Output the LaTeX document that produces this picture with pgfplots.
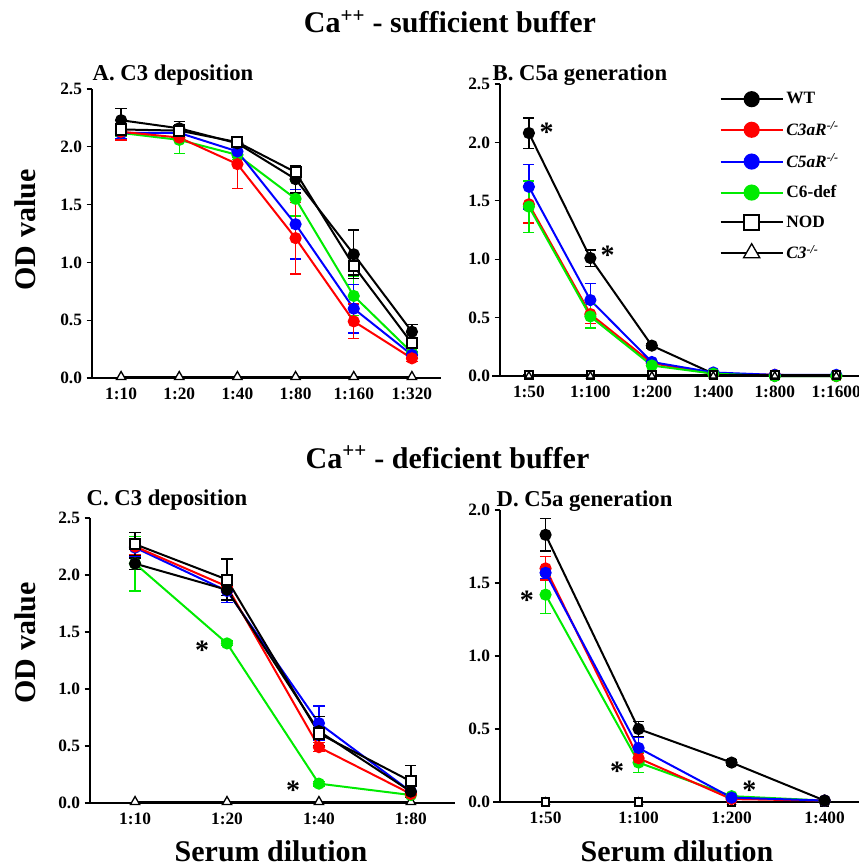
\documentclass[border=0pt]{standalone}
\usepackage{fontspec}
\setmainfont{Liberation Serif}
\usepackage{pgfplots}
\pgfplotsset{compat=1.18}

\definecolor{cred}{RGB}{255,0,0}
\definecolor{cblue}{RGB}{0,0,255}
\definecolor{cgreen}{RGB}{0,235,0}

\tikzset{
  starnode/.style={font=\fontsize{21}{21}\selectfont\bfseries, inner sep=0pt, anchor=base, yshift=-9pt},
}

\pgfplotsset{
  panel/.style={
    scale only axis, clip=false,
    axis x line*=bottom, axis y line*=left,
    axis line style={line width=1.4pt},
    ymin=0, xtick={0,...,5},
    tick align=outside, major tick length=4pt,
    x tick style={draw=none},
    y tick style={line width=1pt,black},
    tick label style={font=\fontsize{13}{15}\selectfont\bfseries},
    /pgf/number format/assume math mode=true,
    yticklabel style={/pgf/number format/.cd,fixed,fixed zerofill,precision=1},
    every axis plot/.append style={line width=1.5pt},
  },
  eb/.style={error bars/y dir=both, error bars/y explicit,
    error bars/error bar style={line width=1pt},
    error bars/error mark options={rotate=90,mark size=4.2pt,line width=1pt}},
  wt/.style={black, mark=*, mark size=3.8pt, mark options={solid}, eb,
    legend image post style={mark size=5.3pt}},
  c3ar/.style={cred, mark=*, mark size=3.8pt, mark options={solid}, eb,
    legend image post style={mark size=5.3pt}},
  c5ar/.style={cblue, mark=*, mark size=3.8pt, mark options={solid}, eb,
    legend image post style={mark size=5.3pt}},
  c6/.style={cgreen, mark=*, mark size=3.8pt, mark options={solid}, eb,
    legend image post style={mark size=5.3pt}},
  nod/.style={black, mark=square*, mark size=3.8pt, mark options={solid,fill=white}, eb,
    legend image post style={mark size=5.6pt}},
  c3ko/.style={black, mark=triangle*, mark size=4pt, mark options={solid,fill=white,line width=1pt},
    legend image post style={mark size=7pt}},
}

\begin{document}
\begin{tikzpicture}
\useasboundingbox (0,0) rectangle (644.25pt,-650.25pt);

% titles
\node[anchor=base, font=\fontsize{22.5}{24}\selectfont\bfseries] at (337.5pt,-24.75pt) {Ca\textsuperscript{++} - sufficient buffer};
\node[anchor=base, font=\fontsize{22.5}{24}\selectfont\bfseries] at (335.6pt,-351pt) {Ca\textsuperscript{++} - deficient buffer};
\node[anchor=base west, font=\fontsize{17}{19}\selectfont\bfseries] at (66pt,-60pt) {A. C3 deposition};
\node[anchor=base west, font=\fontsize{17}{19}\selectfont\bfseries] at (366pt,-60pt) {B. C5a generation};
\node[anchor=base west, font=\fontsize{17}{19}\selectfont\bfseries] at (61.5pt,-378.75pt) {C. C3 deposition};
\node[anchor=base west, font=\fontsize{17}{19}\selectfont\bfseries] at (369pt,-379.5pt) {D. C5a generation};
\node[anchor=base, rotate=90, font=\fontsize{22.5}{24}\selectfont\bfseries] at (26.25pt,-172.5pt) {OD value};
\node[anchor=base, rotate=90, font=\fontsize{22.5}{24}\selectfont\bfseries] at (26.25pt,-482.25pt) {OD value};
\node[anchor=base, font=\fontsize{22.5}{24}\selectfont\bfseries, inner ysep=0pt] at (203.25pt,-646pt) {Serum dilution};
\node[anchor=base, font=\fontsize{22.5}{24}\selectfont\bfseries, inner ysep=0pt] at (507.75pt,-646pt) {Serum dilution};

% A. C3 deposition, Ca++ sufficient
\begin{axis}[panel, at={(69pt,-283.5pt)}, anchor=south west,
  width=261.75pt, height=216.75pt, xmin=-0.5, xmax=5.5, ymax=2.5,
  ytick={0,0.5,...,2.5}, xticklabels={1:10,1:20,1:40,1:80,1:160,1:320}]
\addplot[c3ko] coordinates {(0,0.01) (1,0.01) (2,0.01) (3,0.01) (4,0.01) (5,0.01)};
\addplot[c6] coordinates {(0,2.12) +- (0,0.03) (1,2.06) +- (0,0.12) (2,1.93) +- (0,0.04) (3,1.55) +- (0,0.15) (4,0.71) +- (0,0.17) (5,0.22) +- (0,0.04)};
\addplot[c5ar] coordinates {(0,2.12) +- (0,0.05) (1,2.12) +- (0,0.03) (2,1.96) +- (0,0.05) (3,1.33) +- (0,0.30) (4,0.60) +- (0,0.21) (5,0.20) +- (0,0.03)};
\addplot[c3ar] coordinates {(0,2.13) +- (0,0.07) (1,2.08) +- (0,0.03) (2,1.85) +- (0,0.21) (3,1.21) +- (0,0.31) (4,0.49) +- (0,0.15) (5,0.17) +- (0,0.03)};
\addplot[wt] coordinates {(0,2.23) +- (0,0.10) (1,2.16) +- (0,0.06) (2,2.03) +- (0,0.06) (3,1.72) +- (0,0.12) (4,1.07) +- (0,0.21) (5,0.40) +- (0,0.06)};
\addplot[nod] coordinates {(0,2.15) +- (0,0.04) (1,2.14) +- (0,0.05) (2,2.04) +- (0,0.04) (3,1.78) +- (0,0.06) (4,0.97) +- (0,0.08) (5,0.30) +- (0,0.04)};
\end{axis}

% B. C5a generation, Ca++ sufficient
\begin{axis}[panel, at={(375pt,-282pt)}, anchor=south west,
  width=269.25pt, height=219pt, xmin=-0.47, xmax=5.37, ymax=2.5,
  ytick={0,0.5,...,2.5}, xticklabels={1:50,1:100,1:200,1:400,1:800,1:1600},
  legend style={draw=none, fill=none, at={(rel axis cs:0.6,0.99)}, anchor=north west,
    font=\fontsize{13}{15}\selectfont\bfseries, row sep=8pt},
  legend cell align=left,
  legend image code/.code={\draw[mark repeat=2,mark phase=2,#1] plot coordinates {(0pt,0pt) (23.25pt,0pt) (46.5pt,0pt)};}]
\addplot[wt] coordinates {(0,2.08) +- (0,0.13) (1,1.01) +- (0,0.07) (2,0.26) +- (0,0.02) (3,0.02) +- (0,0) (4,0.00) +- (0,0) (5,0.00) +- (0,0)};
\addplot[c3ar] coordinates {(0,1.47) +- (0,0.16) (1,0.53) +- (0,0.08) (2,0.11) +- (0,0.01) (3,0.02) +- (0,0) (4,0.01) +- (0,0) (5,0.00) +- (0,0)};
\addplot[c5ar] coordinates {(0,1.62) +- (0,0.19) (1,0.65) +- (0,0.14) (2,0.12) +- (0,0.01) (3,0.03) +- (0,0) (4,0.01) +- (0,0) (5,0.01) +- (0,0)};
\addplot[c6] coordinates {(0,1.45) +- (0,0.22) (1,0.51) +- (0,0.10) (2,0.09) +- (0,0.01) (3,0.02) +- (0,0) (4,0.00) +- (0,0) (5,0.00) +- (0,0)};
\addplot[nod, mark size=2.8pt] coordinates {(0,0.01) +- (0,0) (1,0.01) +- (0,0) (2,0.01) +- (0,0) (3,0.01) +- (0,0) (4,0.01) +- (0,0) (5,0.01) +- (0,0)};
\addplot[c3ko, mark size=3.2pt] coordinates {(0,0.00) (1,0.00) (2,0.00) (3,0.00) (4,0.00) (5,0.00)};
\legend{WT, \textit{C3aR\textsuperscript{-/-}}, \textit{C5aR\textsuperscript{-/-}}, C6-def, NOD, \textit{C3\textsuperscript{-/-}}}
\node[starnode] at (axis cs:0.29,2.11) {*};
\node[starnode] at (axis cs:1.28,1.06) {*};
\end{axis}
\draw[line width=1.4pt] (369pt,-282pt) -- (375pt,-282pt);

% C. C3 deposition, Ca++ deficient
\begin{axis}[panel, at={(67.5pt,-602.25pt)}, anchor=south west,
  width=273.75pt, height=213.75pt, xmin=-0.49, xmax=3.48, ymax=2.5,
  ytick={0,0.5,...,2.5}, xticklabels={1:10,1:20,1:40,1:80}]
\addplot[c3ko] coordinates {(0,0.01) (1,0.01) (2,0.01) (3,0.01)};
\addplot[c6] coordinates {(0,2.10) +- (0,0.24) (1,1.40) +- (0,0.02) (2,0.17) +- (0,0.02) (3,0.07) +- (0,0.02)};
\addplot[c5ar] coordinates {(0,2.24) +- (0,0.08) (1,1.86) +- (0,0.10) (2,0.70) +- (0,0.15) (3,0.10) +- (0,0.02)};
\addplot[c3ar] coordinates {(0,2.25) +- (0,0.07) (1,1.90) +- (0,0.05) (2,0.49) +- (0,0.04) (3,0.08) +- (0,0.02)};
\addplot[wt] coordinates {(0,2.10) +- (0,0.05) (1,1.87) +- (0,0.05) (2,0.63) +- (0,0.13) (3,0.10) +- (0,0.02)};
\addplot[nod] coordinates {(0,2.27) +- (0,0.10) (1,1.96) +- (0,0.18) (2,0.61) +- (0,0.05) (3,0.19) +- (0,0.14)};
\node[starnode] at (axis cs:0.73,1.36) {*};
\node[starnode] at (axis cs:1.72,0.14) {*};
\end{axis}

% D. C5a generation, Ca++ deficient
\begin{axis}[panel, at={(375pt,-601.5pt)}, anchor=south west,
  width=269.25pt, height=219pt, xmin=-0.49, xmax=3.37, ymax=2.0,
  ytick={0,0.5,...,2.0}, xticklabels={1:50,1:100,1:200,1:400}]
\addplot[c3ko, mark size=3.2pt] coordinates {(0,0.00) (1,0.00) (2,0.00) (3,0.00)};
\addplot[nod, mark size=2.8pt] coordinates {(0,0.00) +- (0,0) (1,0.00) +- (0,0) (2,0.00) +- (0,0) (3,0.00) +- (0,0)};
\addplot[c6] coordinates {(0,1.42) +- (0,0.13) (1,0.27) +- (0,0.07) (2,0.04) +- (0,0) (3,0.01) +- (0,0)};
\addplot[c3ar] coordinates {(0,1.60) +- (0,0.08) (1,0.30) +- (0,0.03) (2,0.02) +- (0,0) (3,0.01) +- (0,0)};
\addplot[c5ar] coordinates {(0,1.57) +- (0,0.04) (1,0.37) +- (0,0.07) (2,0.03) +- (0,0) (3,0.01) +- (0,0)};
\addplot[wt] coordinates {(0,1.83) +- (0,0.11) (1,0.50) +- (0,0.05) (2,0.27) +- (0,0.02) (3,0.01) +- (0,0)};
\node[starnode] at (axis cs:-0.2,1.40) {*};
\node[starnode] at (axis cs:0.77,0.23) {*};
\node[starnode] at (axis cs:2.19,0.10) {*};
\end{axis}
\draw[line width=1.4pt] (369.75pt,-601.5pt) -- (375pt,-601.5pt);
\end{tikzpicture}
\end{document}
